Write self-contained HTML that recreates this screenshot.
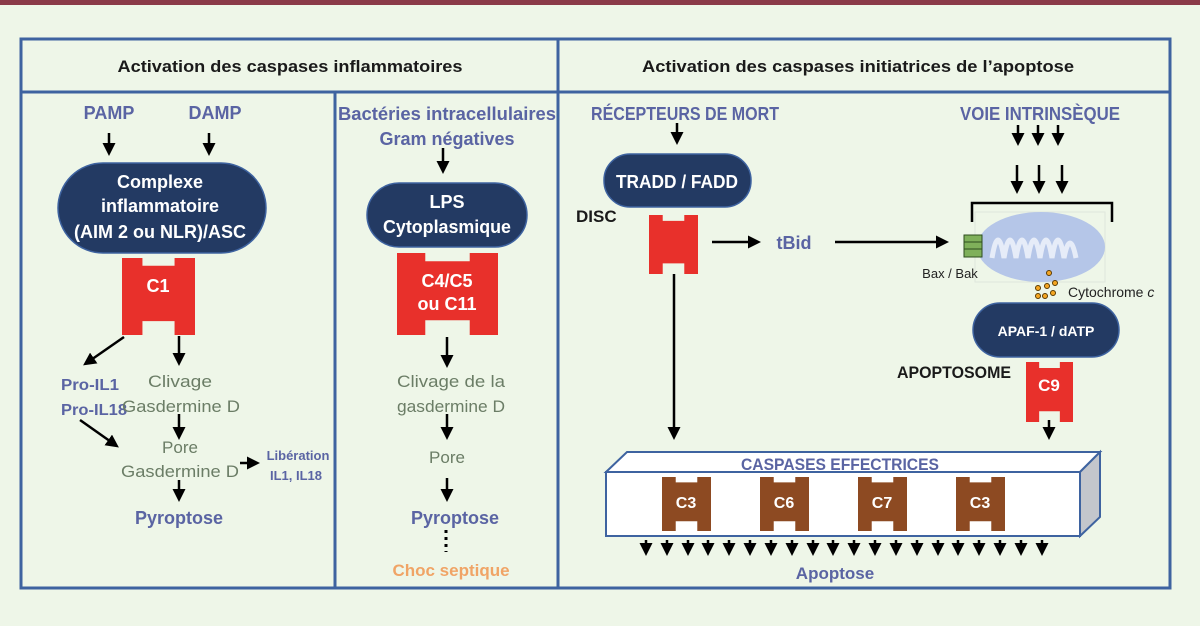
<!DOCTYPE html>
<html><head><meta charset="utf-8"><style>
html,body{margin:0;padding:0;background:#eef6e8;}
svg{display:block;font-family:"Liberation Sans",sans-serif;}
.b{font-weight:bold;}
.blue{fill:#5a64a3;font-weight:bold;}
.grey{fill:#6b7d66;}
.w{fill:#fff;font-weight:bold;}
.d{fill:#1a1a1a;font-weight:bold;}
</style></head><body>
<svg width="1200" height="626" viewBox="0 0 1200 626" xmlns="http://www.w3.org/2000/svg">
<defs>
<marker id="ah" markerWidth="13" markerHeight="13" refX="7" refY="6.5" orient="auto" markerUnits="userSpaceOnUse">
<path d="M0,0 L13,6.5 L0,13 Z" fill="#000"/></marker>
</defs>
<rect x="0" y="0" width="1200" height="626" fill="#eef6e8"/>
<rect x="0" y="0" width="1200" height="5" fill="#8a3a48"/>
<g fill="none" stroke="#3e63a0" stroke-width="3">
<rect x="21" y="39" width="1149" height="549"/>
<line x1="21" y1="92" x2="1170" y2="92"/>
<line x1="558" y1="39" x2="558" y2="588"/>
<line x1="335" y1="92" x2="335" y2="588"/>
</g>
<text x="290" y="72" class="d" font-size="17" text-anchor="middle" textLength="345" lengthAdjust="spacingAndGlyphs">Activation des caspases inflammatoires</text>
<text x="858" y="72" class="d" font-size="17" text-anchor="middle" textLength="432" lengthAdjust="spacingAndGlyphs">Activation des caspases initiatrices de l’apoptose</text>

<g stroke="#000" stroke-width="2.5" marker-end="url(#ah)">
<line x1="109" y1="133" x2="109" y2="150"/>
<line x1="209" y1="133" x2="209" y2="150"/>
<line x1="124" y1="337" x2="88" y2="362"/>
<line x1="179" y1="336" x2="179" y2="360"/>
<line x1="179" y1="414" x2="179" y2="434"/>
<line x1="80" y1="420" x2="114" y2="444"/>
<line x1="240" y1="463" x2="254" y2="463"/>
<line x1="179" y1="480" x2="179" y2="496"/>
<line x1="443" y1="148" x2="443" y2="168"/>
<line x1="447" y1="337" x2="447" y2="362"/>
<line x1="447" y1="414" x2="447" y2="434"/>
<line x1="447" y1="478" x2="447" y2="496"/>
<line x1="677" y1="123" x2="677" y2="139"/>
<line x1="674" y1="274" x2="674" y2="434"/>
<line x1="712" y1="242" x2="755" y2="242"/>
<line x1="835" y1="242" x2="943" y2="242"/>
<line x1="1018" y1="125" x2="1018" y2="140"/>
<line x1="1038" y1="125" x2="1038" y2="140"/>
<line x1="1058" y1="125" x2="1058" y2="140"/>
<line x1="1017" y1="165" x2="1017" y2="188"/>
<line x1="1039" y1="165" x2="1039" y2="188"/>
<line x1="1062" y1="165" x2="1062" y2="188"/>
<line x1="1049" y1="420" x2="1049" y2="434"/>
</g>
<line x1="446" y1="530" x2="446" y2="552" stroke="#000" stroke-width="3" stroke-dasharray="3,4"/>

<text x="109" y="119" class="blue" font-size="18" text-anchor="middle">PAMP</text>
<text x="215" y="119" class="blue" font-size="18" text-anchor="middle">DAMP</text>
<rect x="58" y="163" width="208" height="90" rx="45" fill="#233a63" stroke="#3e63a0" stroke-width="1.5"/>
<text x="160" y="188" class="w" font-size="18" text-anchor="middle">Complexe</text>
<text x="160" y="212" class="w" font-size="18" text-anchor="middle">inflammatoire</text>
<text x="160" y="238" class="w" font-size="18" text-anchor="middle" textLength="172" lengthAdjust="spacingAndGlyphs">(AIM 2 ou NLR)/ASC</text>
<path transform="translate(122,258) scale(0.73,0.77)" d="M0,0 H28 V10 H72 V0 H100 V100 H72 V82 H28 V100 H0 Z" fill="#e8302b"/>
<text x="158" y="292" class="w" font-size="18" text-anchor="middle">C1</text>
<text x="61" y="390" class="blue" font-size="16" textLength="58" lengthAdjust="spacingAndGlyphs">Pro-IL1</text>
<text x="61" y="415" class="blue" font-size="16" textLength="66" lengthAdjust="spacingAndGlyphs">Pro-IL18</text>
<text x="180" y="387" class="grey" font-size="17" text-anchor="middle" textLength="64" lengthAdjust="spacingAndGlyphs">Clivage</text>
<text x="181" y="412" class="grey" font-size="17" text-anchor="middle" textLength="118" lengthAdjust="spacingAndGlyphs">Gasdermine D</text>
<text x="180" y="453" class="grey" font-size="17" text-anchor="middle">Pore</text>
<text x="180" y="477" class="grey" font-size="17" text-anchor="middle" textLength="118" lengthAdjust="spacingAndGlyphs">Gasdermine D</text>
<text x="298" y="460" class="blue" font-size="13" text-anchor="middle">Libération</text>
<text x="296" y="480" class="blue" font-size="13" text-anchor="middle">IL1, IL18</text>
<text x="179" y="524" class="blue" font-size="18" text-anchor="middle">Pyroptose</text>

<text x="447" y="120" class="blue" font-size="18" text-anchor="middle" textLength="218" lengthAdjust="spacingAndGlyphs">Bactéries intracellulaires</text>
<text x="447" y="145" class="blue" font-size="18" text-anchor="middle">Gram négatives</text>
<rect x="367" y="183" width="160" height="64" rx="32" fill="#233a63" stroke="#3e63a0" stroke-width="1.5"/>
<text x="447" y="208" class="w" font-size="18" text-anchor="middle">LPS</text>
<text x="447" y="233" class="w" font-size="18" text-anchor="middle" textLength="128" lengthAdjust="spacingAndGlyphs">Cytoplasmique</text>
<path transform="translate(397,253) scale(1.01,0.82)" d="M0,0 H28 V10 H72 V0 H100 V100 H72 V82 H28 V100 H0 Z" fill="#e8302b"/>
<text x="447" y="287" class="w" font-size="18" text-anchor="middle">C4/C5</text>
<text x="447" y="310" class="w" font-size="18" text-anchor="middle">ou C11</text>
<text x="451" y="387" class="grey" font-size="17" text-anchor="middle" textLength="108" lengthAdjust="spacingAndGlyphs">Clivage de la</text>
<text x="451" y="412" class="grey" font-size="17" text-anchor="middle" textLength="108" lengthAdjust="spacingAndGlyphs">gasdermine D</text>
<text x="447" y="463" class="grey" font-size="17" text-anchor="middle">Pore</text>
<text x="455" y="524" class="blue" font-size="18" text-anchor="middle">Pyroptose</text>
<text x="451" y="576" font-size="17" font-weight="bold" fill="#f0a466" text-anchor="middle">Choc septique</text>

<text x="685" y="120" class="blue" font-size="18" text-anchor="middle" textLength="188" lengthAdjust="spacingAndGlyphs">RÉCEPTEURS DE MORT</text>
<rect x="604" y="154" width="147" height="53" rx="26" fill="#233a63" stroke="#3e63a0" stroke-width="1.5"/>
<text x="677" y="188" class="w" font-size="18" text-anchor="middle" textLength="122" lengthAdjust="spacingAndGlyphs">TRADD / FADD</text>
<text x="576" y="222" class="d" font-size="17">DISC</text>
<path transform="translate(649,215) scale(0.49,0.59)" d="M0,0 H28 V10 H72 V0 H100 V100 H72 V82 H28 V100 H0 Z" fill="#e8302b"/>
<text x="794" y="249" class="blue" font-size="18" text-anchor="middle">tBid</text>

<text x="1040" y="120" class="blue" font-size="18" text-anchor="middle" textLength="160" lengthAdjust="spacingAndGlyphs">VOIE INTRINSÈQUE</text>
<path d="M972,222 V203 H1112 V222" fill="none" stroke="#000" stroke-width="2.5"/>
<rect x="975" y="212" width="130" height="70" fill="none" stroke="#dfe6dc" stroke-width="1"/>
<ellipse cx="1041" cy="247" rx="64" ry="35" fill="#b5c6e8"/>
<path d="M992,258 q6,-36 12,0 q6,-36 12,0 q6,-36 12,0 q6,-36 12,0 q6,-36 12,0 q6,-36 12,0 q6,-30 12,0" fill="none" stroke="#e6ecf8" stroke-width="5"/>
<g fill="#7fb05a" stroke="#2d4d1e" stroke-width="1">
<rect x="964" y="235" width="18" height="7"/><rect x="964" y="242" width="18" height="7"/><rect x="964" y="249" width="18" height="8"/>
</g>
<text x="950" y="278" font-size="13" fill="#222" text-anchor="middle">Bax / Bak</text>
<g fill="#f5a623" stroke="#5a3a00" stroke-width="1">
<circle cx="1049" cy="273" r="2.5"/><circle cx="1055" cy="283" r="2.5"/><circle cx="1047" cy="286" r="2.5"/>
<circle cx="1038" cy="288" r="2.5"/><circle cx="1053" cy="293" r="2.5"/><circle cx="1045" cy="296" r="2.5"/><circle cx="1038" cy="296" r="2.5"/>
</g>
<text x="1068" y="297" font-size="14" fill="#222">Cytochrome <tspan font-style="italic">c</tspan></text>
<rect x="973" y="303" width="146" height="54" rx="27" fill="#233a63" stroke="#3e63a0" stroke-width="1.5"/>
<text x="1046" y="336" class="w" font-size="14" text-anchor="middle">APAF-1 / dATP</text>
<text x="897" y="378" class="d" font-size="17" textLength="114" lengthAdjust="spacingAndGlyphs">APOPTOSOME</text>
<path transform="translate(1026,362) scale(0.47,0.6)" d="M0,0 H28 V10 H72 V0 H100 V100 H72 V82 H28 V100 H0 Z" fill="#e8302b"/>
<text x="1049" y="391" class="w" font-size="17" text-anchor="middle">C9</text>

<path d="M606,472 L627,452 H1100 L1080,472 Z" fill="#fff" stroke="#3e63a0" stroke-width="2"/>
<path d="M1080,472 L1100,452 V517 L1080,536 Z" fill="#c3c6cc" stroke="#3e63a0" stroke-width="2"/>
<rect x="606" y="472" width="474" height="64" fill="#fff" stroke="#3e63a0" stroke-width="2"/>
<text x="840" y="470" class="blue" font-size="17" text-anchor="middle" textLength="198" lengthAdjust="spacingAndGlyphs">CASPASES EFFECTRICES</text>
<g fill="#8d4a22">
<path transform="translate(662,477) scale(0.49,0.54)" d="M0,0 H28 V10 H72 V0 H100 V100 H72 V82 H28 V100 H0 Z"/>
<path transform="translate(760,477) scale(0.49,0.54)" d="M0,0 H28 V10 H72 V0 H100 V100 H72 V82 H28 V100 H0 Z"/>
<path transform="translate(858,477) scale(0.49,0.54)" d="M0,0 H28 V10 H72 V0 H100 V100 H72 V82 H28 V100 H0 Z"/>
<path transform="translate(956,477) scale(0.49,0.54)" d="M0,0 H28 V10 H72 V0 H100 V100 H72 V82 H28 V100 H0 Z"/>
</g>
<text x="686" y="508" class="w" font-size="16" text-anchor="middle">C3</text>
<text x="784" y="508" class="w" font-size="16" text-anchor="middle">C6</text>
<text x="882" y="508" class="w" font-size="16" text-anchor="middle">C7</text>
<text x="980" y="508" class="w" font-size="16" text-anchor="middle">C3</text>
<g stroke="#000" stroke-width="2.5" marker-end="url(#ah)">
<line x1="646" y1="540" x2="646" y2="550"/><line x1="667" y1="540" x2="667" y2="550"/><line x1="688" y1="540" x2="688" y2="550"/><line x1="708" y1="540" x2="708" y2="550"/><line x1="729" y1="540" x2="729" y2="550"/>
<line x1="750" y1="540" x2="750" y2="550"/><line x1="771" y1="540" x2="771" y2="550"/><line x1="792" y1="540" x2="792" y2="550"/><line x1="813" y1="540" x2="813" y2="550"/><line x1="833" y1="540" x2="833" y2="550"/>
<line x1="854" y1="540" x2="854" y2="550"/><line x1="875" y1="540" x2="875" y2="550"/><line x1="896" y1="540" x2="896" y2="550"/><line x1="917" y1="540" x2="917" y2="550"/><line x1="938" y1="540" x2="938" y2="550"/>
<line x1="958" y1="540" x2="958" y2="550"/><line x1="979" y1="540" x2="979" y2="550"/><line x1="1000" y1="540" x2="1000" y2="550"/><line x1="1021" y1="540" x2="1021" y2="550"/><line x1="1042" y1="540" x2="1042" y2="550"/>
</g>
<text x="835" y="579" class="blue" font-size="17" text-anchor="middle">Apoptose</text>
</svg>
</body></html>
